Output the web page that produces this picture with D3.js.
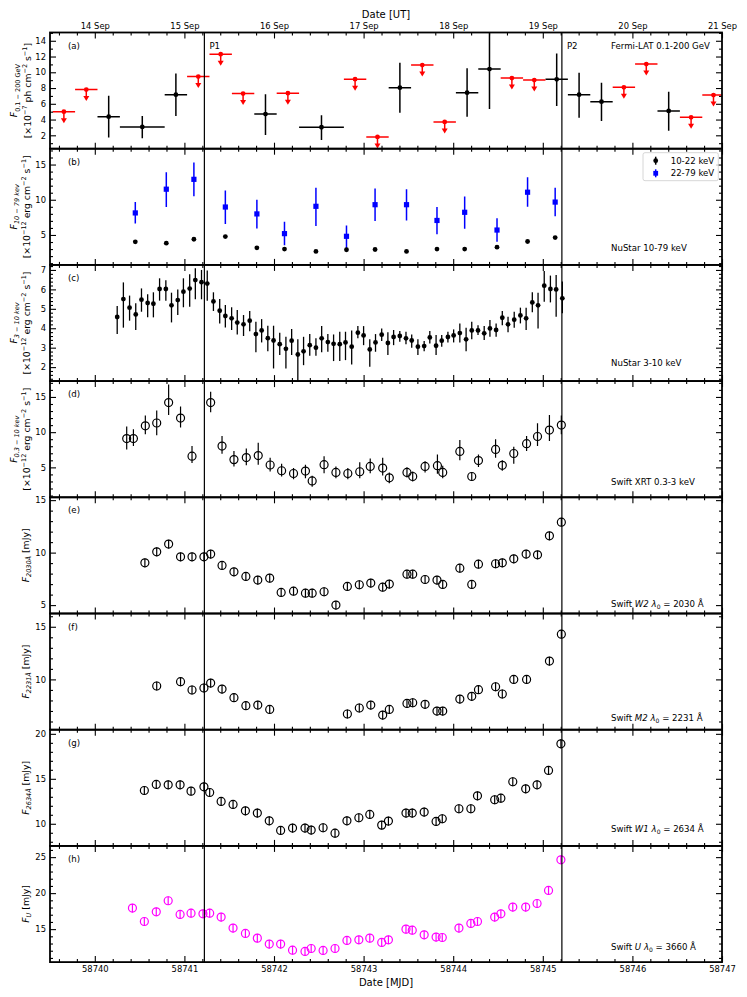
<!DOCTYPE html>
<html><head><meta charset="utf-8">
<script src="https://cdn.jsdelivr.net/npm/d3@7"></script>
<style>body{margin:0;background:#fff}svg{display:block}text{font-family:"DejaVu Sans",sans-serif;fill:#000}</style>
</head><body><svg id="c" width="747" height="997"></svg>
<script>
// ---------------- DATA ----------------
const xDomain = [58739.5, 58747];
const mjdTicks = [58740, 58741, 58742, 58743, 58744, 58745, 58746, 58747];
const utTickLabels = ["14 Sep", "15 Sep", "16 Sep", "17 Sep", "18 Sep", "19 Sep", "20 Sep", "21 Sep"];
const flareTimes = [58741.223, 58745.213];
const flareNames = ["P1", "P2"];

// (a) Fermi-LAT detections
const fermiX   = [58740.155, 58740.53, 58740.905, 58741.905, 58742.53, 58743.405, 58744.155, 58744.405, 58745.155, 58745.405, 58745.655, 58746.405];
const fermiXlo = [58740.03, 58740.28, 58740.78, 58741.78, 58742.28, 58743.28, 58744.03, 58744.28, 58745.03, 58745.28, 58745.53, 58746.28];
const fermiXhi = [58740.28, 58740.78, 58741.03, 58742.03, 58742.78, 58743.53, 58744.28, 58744.53, 58745.28, 58745.53, 58745.78, 58746.53];
const fermiY   = [4.37, 3.06, 7.16, 4.7, 3.02, 8.04, 7.41, 10.41, 9.1, 7.16, 6.27, 5.09];
const fermiYlo = [1.71, 1.62, 4.45, 2.04, 1.41, 4.87, 4.37, 5.34, 5.72, 4.24, 3.82, 2.59];
const fermiYhi = [7.03, 4.45, 9.86, 7.2, 4.54, 11.2, 10.5, 15.5, 12.4, 9.94, 8.68, 7.54];
// (a) Fermi-LAT upper limits
const ulX   = [58739.655, 58739.905, 58741.155, 58741.405, 58741.655, 58742.155, 58742.905, 58743.155, 58743.655, 58743.905, 58744.655, 58744.905, 58745.905, 58746.155, 58746.655, 58746.905];
const ulXlo = [58739.53, 58739.78, 58741.03, 58741.28, 58741.53, 58742.03, 58742.78, 58743.03, 58743.53, 58743.78, 58744.53, 58744.78, 58745.78, 58746.03, 58746.53, 58746.78];
const ulXhi = [58739.78, 58740.03, 58741.28, 58741.53, 58741.78, 58742.28, 58743.03, 58743.28, 58743.78, 58744.03, 58744.78, 58745.03, 58746.03, 58746.28, 58746.78, 58747.03];
const ulY   = [5.0, 7.8, 9.45, 12.3, 7.3, 7.35, 9.12, 1.8, 10.92, 3.7, 9.27, 9.01, 8.09, 11.04, 4.28, 7.11];

// (b) NuSTAR 10-22 and 22-79 keV
const nuHardX = [58740.452, 58740.798, 58741.106, 58741.457, 58741.809, 58742.117, 58742.468, 58742.809, 58743.128, 58743.479, 58743.819, 58744.128, 58744.489, 58744.830, 58745.138];
const nu1022   = [4.02, 3.83, 4.39, 4.77, 3.18, 2.99, 2.66, 2.9, 2.94, 2.66, 2.99, 2.99, 3.27, 4.07, 4.63];
const nu1022Err = 0.2;
const nu2279   = [8.13, 11.5, 12.9, 8.97, 7.99, 5.19, 9.07, 4.81, 9.3, 9.3, 7.06, 8.22, 5.7, 11.07, 9.67];
const nu2279Lo = [6.64, 8.97, 10.5, 6.54, 5.93, 3.55, 6.26, 3.08, 7.0, 7.05, 5.09, 5.89, 4.02, 9.0, 7.66];
const nu2279Hi = [9.67, 13.9, 15.3, 11.3, 10.0, 6.87, 11.7, 6.36, 11.6, 11.5, 8.97, 10.47, 7.38, 13.2, 11.7];

// (c) NuSTAR 3-10 keV
const nuSoftX = [58740.250, 58740.319, 58740.388, 58740.457, 58740.521, 58740.590, 58740.654, 58740.723, 58740.793, 58740.856,
  58740.926, 58740.989, 58741.059, 58741.122, 58741.191, 58741.255, 58741.324, 58741.394, 58741.457, 58741.527,
  58741.590, 58741.660, 58741.729, 58741.798, 58741.862, 58741.931, 58741.995, 58742.064, 58742.133, 58742.197,
  58742.266, 58742.330, 58742.399, 58742.468, 58742.532, 58742.601, 58742.665, 58742.734, 58742.798, 58742.867,
  58742.936, 58743.000, 58743.069, 58743.133, 58743.202, 58743.271, 58743.335, 58743.404, 58743.473, 58743.537,
  58743.606, 58743.676, 58743.739, 58743.809, 58743.872, 58743.941, 58744.005, 58744.074, 58744.144, 58744.207,
  58744.277, 58744.346, 58744.410, 58744.479, 58744.548, 58744.612, 58744.681, 58744.750, 58744.814, 58744.883,
  58744.947, 58745.016, 58745.085, 58745.149, 58745.218];
const nuSoftY = [4.58, 5.5, 5.06, 4.71, 5.47, 5.3, 5.26, 6.02, 6.02, 5.18,
  5.45, 5.88, 6.04, 6.48, 6.37, 6.3, 5.38, 4.9, 4.63, 4.51,
  4.29, 4.2, 4.39, 3.70, 3.89, 3.49, 3.37, 3.18, 2.94, 3.36,
  2.65, 2.81, 3.13, 3.0, 3.48, 3.29, 3.2, 3.18, 3.27, 3.05,
  3.77, 3.63, 2.91, 3.27, 3.67, 3.24, 3.55, 3.6, 3.48, 3.37,
  3.05, 3.08, 3.53, 3.1, 3.36, 3.55, 3.63, 3.75, 3.43, 3.89,
  3.89, 3.74, 3.99, 3.91, 4.54, 4.2, 4.44, 4.66, 4.51, 5.33,
  5.18, 6.19, 6.02, 6.0, 5.54];
const nuSoftHi = [5.14, 6.36, 5.68, 5.28, 6.05, 5.75, 5.85, 6.57, 6.47, 5.83,
  6.0, 6.57, 6.78, 7.09, 7.0, 6.97, 5.85, 5.51, 5.2, 5.08,
  4.94, 4.68, 4.89, 4.34, 4.47, 4.13, 4.13, 3.77, 3.56, 3.96,
  3.44, 3.56, 3.70, 3.48, 4.11, 3.70, 3.68, 3.82, 3.82, 3.89,
  4.11, 4.11, 3.43, 3.70, 3.99, 3.79, 3.91, 3.86, 3.82, 3.68,
  3.43, 3.34, 3.86, 3.65, 3.65, 3.82, 3.94, 4.25, 4.03, 4.34,
  4.16, 4.11, 4.42, 4.25, 4.89, 4.59, 4.85, 5.06, 5.06, 5.85,
  5.83, 6.95, 6.71, 6.74, 6.40];
const nuSoftLo = [3.70, 4.03, 4.39, 3.91, 4.85, 4.56, 4.56, 5.42, 5.42, 4.30,
  4.68, 5.08, 5.11, 5.49, 5.49, 5.42, 4.89, 4.25, 4.04, 3.91,
  3.68, 3.6, 3.84, 2.76, 3.27, 2.82, 1.93, 2.62, 1.93, 2.62,
  1.0, 2.10, 2.58, 2.58, 2.76, 2.79, 2.31, 2.31, 2.36, 2.14,
  3.48, 3.13, 2.02, 2.79, 3.34, 2.62, 3.13, 3.31, 3.17, 3.0,
  2.62, 2.82, 3.22, 2.62, 3.05, 3.27, 3.27, 3.27, 2.82, 3.44,
  3.65, 3.39, 3.56, 3.56, 4.16, 3.79, 4.03, 4.25, 3.91, 4.82,
  3.99, 5.37, 5.33, 4.59, 4.77];

// (d) Swift XRT 0.3-10 keV
const xrtX = [58740.356, 58740.431, 58740.564, 58740.691, 58740.824, 58740.957, 58741.085, 58741.293, 58741.420, 58741.553,
  58741.691, 58741.824, 58741.957, 58742.085, 58742.218, 58742.351, 58742.426, 58742.559, 58742.691, 58742.824,
  58742.957, 58743.074, 58743.213, 58743.287, 58743.484, 58743.548, 58743.686, 58743.824, 58743.883, 58744.074,
  58744.207, 58744.282, 58744.473, 58744.548, 58744.676, 58744.819, 58744.941, 58745.074, 58745.207];
const xrtY = [9.09, 9.09, 10.9, 11.3, 14.2, 12.0, 6.59, 14.2, 8.03, 6.1,
  6.39, 6.68, 5.34, 4.52, 4.13, 4.47, 3.08, 5.38, 4.28, 4.13,
  4.38, 5.14, 4.9, 3.51, 4.28, 3.7, 5.14, 5.24, 4.28, 7.26,
  3.7, 5.96, 7.55, 5.29, 6.97, 8.37, 9.38, 10.3, 11.0];
const xrtHi = [10.82, 10.43, 12.36, 13.08, 16.78, 13.65, 8.03, 15.72, 9.47, 7.31,
  7.69, 8.51, 6.35, 5.53, 4.9, 5.38, 3.8, 6.59, 5.14, 4.9,
  5.72, 6.25, 6.35, 4.28, 5.0, 4.42, 5.87, 6.83, 5.24, 8.89,
  4.28, 6.83, 8.99, 6.01, 7.93, 9.47, 11.25, 12.45, 12.36];
const xrtLo = [7.55, 8.03, 9.71, 9.57, 12.45, 10.67, 5.63, 12.84, 6.92, 5.14,
  5.29, 5.38, 4.42, 3.7, 3.32, 3.46, 2.26, 4.18, 3.46, 3.32,
  3.46, 4.18, 3.85, 2.74, 3.56, 2.98, 4.28, 4.09, 3.46, 6.01,
  3.08, 5.05, 6.35, 4.52, 5.53, 7.31, 8.03, 8.75, 9.71];

// (e) UVOT W2
const w2X = [58740.559, 58740.691, 58740.824, 58740.957, 58741.085, 58741.218, 58741.293, 58741.420, 58741.553, 58741.686,
  58741.819, 58741.952, 58742.080, 58742.218, 58742.351, 58742.426, 58742.559, 58742.691, 58742.819, 58742.952,
  58743.080, 58743.213, 58743.287, 58743.484, 58743.548, 58743.686, 58743.819, 58743.883, 58744.074, 58744.207,
  58744.282, 58744.473, 58744.548, 58744.676, 58744.814, 58744.941, 58745.074, 58745.207];
const w2Y = [9.03, 10.08, 10.81, 9.6, 9.6, 9.6, 9.86, 8.78, 8.17, 7.73,
  7.38, 7.57, 6.21, 6.33, 6.14, 6.14, 6.27, 5.0, 6.78, 6.94,
  7.1, 6.71, 7.0, 7.95, 7.95, 7.44, 7.38, 6.97, 8.52, 6.97,
  8.9, 8.94, 9.03, 9.41, 9.86, 9.79, 11.6, 12.9];
const w2Err = 0.42;

// (f) UVOT M2
const m2X = [58740.691, 58740.957, 58741.085, 58741.218, 58741.293, 58741.420, 58741.553, 58741.686, 58741.819, 58741.952,
  58742.819, 58742.952, 58743.080, 58743.213, 58743.287, 58743.484, 58743.548, 58743.686, 58743.819, 58743.883,
  58744.074, 58744.207, 58744.282, 58744.473, 58744.548, 58744.676, 58744.819, 58745.074, 58745.207];
const m2Y = [9.37, 9.78, 8.99, 9.18, 9.65, 9.08, 8.26, 7.5, 7.56, 7.15,
  6.71, 7.28, 7.56, 6.61, 7.15, 7.72, 7.78, 7.63, 6.99, 6.99,
  8.13, 8.39, 9.02, 9.3, 8.61, 10.0, 10.0, 11.74, 14.3];
const m2Err = 0.42;

// (g) UVOT W1
const w1X = [58740.553, 58740.686, 58740.819, 58740.952, 58741.074, 58741.218, 58741.282, 58741.410, 58741.543, 58741.681,
  58741.814, 58741.947, 58742.074, 58742.207, 58742.346, 58742.415, 58742.548, 58742.681, 58742.814, 58742.947,
  58743.069, 58743.202, 58743.277, 58743.473, 58743.543, 58743.676, 58743.809, 58743.878, 58744.064, 58744.197,
  58744.271, 58744.463, 58744.532, 58744.665, 58744.809, 58744.936, 58745.064, 58745.202];
const w1Y = [13.7, 14.37, 14.33, 14.33, 13.63, 14.11, 13.48, 12.48, 12.15, 11.44,
  11.19, 10.33, 9.26, 9.52, 9.52, 9.3, 9.56, 8.96, 10.33, 10.67,
  11.04, 9.85, 10.3, 11.19, 11.19, 11.3, 10.26, 10.56, 11.67, 11.67,
  13.11, 12.67, 12.85, 14.67, 13.89, 14.33, 15.93, 18.89];
const w1Err = 0.5;

// (h) UVOT U
const uX = [58740.420, 58740.553, 58740.686, 58740.819, 58740.952, 58741.074, 58741.207, 58741.282, 58741.410, 58741.543,
  58741.681, 58741.814, 58741.947, 58742.074, 58742.207, 58742.346, 58742.415, 58742.548, 58742.681, 58742.814,
  58742.947, 58743.069, 58743.202, 58743.277, 58743.473, 58743.543, 58743.676, 58743.809, 58743.878, 58744.064,
  58744.197, 58744.271, 58744.463, 58744.532, 58744.665, 58744.809, 58744.936, 58745.064, 58745.202];
const uY = [17.92, 16.06, 17.41, 18.94, 17.04, 17.22, 17.13, 17.22, 16.67, 15.14,
  14.4, 13.75, 12.92, 12.92, 12.08, 11.9, 12.31, 12.04, 12.31, 13.43,
  13.52, 13.75, 13.15, 13.52, 15.0, 14.86, 14.21, 13.89, 13.84, 15.14,
  15.79, 16.06, 16.67, 17.13, 18.06, 18.06, 18.56, 20.37, 24.63];
const uErr = 0.6;

// ---------------- LAYOUT ----------------
const L = 50, R = 722, TOP = 32.5, PH = 116.2, NP = 8;
const FS = 8.6, TICKFS = 8.4, LABFS = 9.3;
const svg = d3.select('#c');
const x = d3.scaleLinear().domain(xDomain).range([L, R]);

function rich(sel, segs, fs) {
  let cur = 0;
  segs.forEach(([t, m]) => {
    const ts = sel.append('tspan').text(t);
    const target = m.includes('sub') ? 0.26 * fs : m.includes('sup') ? -0.38 * fs : 0;
    ts.attr('dy', (target - cur).toFixed(2));
    cur = target;
    if (m.includes('sub') || m.includes('sup')) ts.attr('font-size', (fs * 0.7).toFixed(2));
    if (m.includes('i')) ts.attr('font-style', 'italic');
  });
  return sel;
}
const unitsX = [['[×10', ''], ['−12', 'sup'], [' erg cm', ''], ['−2', 'sup'], [' s', ''], ['−1', 'sup'], [']', '']];

const panels = [
  { key: 'a', dom: [0.3, 15.05], major: [2, 4, 6, 8, 10, 12, 14], minor: 1,
    ylab: [[['F', 'i'], ['0.1 − 200 GeV', 'sub']],
           [['[×10', ''], ['−7', 'sup'], [' ph cm', ''], ['−2', 'sup'], [' s', ''], ['−1', 'sup'], [']', '']]],
    note: [['Fermi-LAT 0.1-200 GeV', '']], noteY: 16 },
  { key: 'b', dom: [0.75, 17.25], major: [5, 10, 15], minor: 1,
    ylab: [[['F', 'i'], ['10 − 79 kev', 'isub']], unitsX],
    note: [['NuStar 10-79 keV', '']], noteY: PH - 14 },
  { key: 'c', dom: [1.28, 7.26], major: [2, 3, 4, 5, 6, 7], minor: 0.2,
    ylab: [[['F', 'i'], ['3 − 10 kev', 'isub']], unitsX],
    note: [['NuStar 3-10 keV', '']], noteY: PH - 15 },
  { key: 'd', dom: [0.75, 17.25], major: [5, 10, 15], minor: 1,
    ylab: [[['F', 'i'], ['0.3 − 10 kev', 'isub']], unitsX],
    note: [['Swift XRT 0.3-3 keV', '']], noteY: PH - 12 },
  { key: 'e', dom: [4.2, 15.27], major: [5, 10, 15], minor: 1,
    ylab: [[['F', 'i'], ['2030Å', 'isub'], [' [mJy]', '']]],
    note: [['Swift ', ''], ['W2', 'i'], [' ', ''], ['λ', 'i'], ['0', 'sub'], [' = 2030 Å', '']], noteY: PH - 7 },
  { key: 'f', dom: [5.22, 16.26], major: [10, 15], minor: 1,
    ylab: [[['F', 'i'], ['2231Å', 'isub'], [' [mJy]', '']]],
    note: [['Swift ', ''], ['M2', 'i'], [' ', ''], ['λ', 'i'], ['0', 'sub'], [' = 2231 Å', '']], noteY: PH - 8.5 },
  { key: 'g', dom: [7.54, 20.46], major: [10, 15, 20], minor: 1,
    ylab: [[['F', 'i'], ['2634Å', 'isub'], [' [mJy]', '']]],
    note: [['Swift ', ''], ['W1', 'i'], [' ', ''], ['λ', 'i'], ['0', 'sub'], [' = 2634 Å', '']], noteY: PH - 14 },
  { key: 'h', dom: [10.42, 26.56], major: [15, 20, 25], minor: 1,
    ylab: [[['F', 'i'], ['U', 'isub'], [' [mJy]', '']]],
    note: [['Swift ', ''], ['U', 'i'], [' ', ''], ['λ', 'i'], ['0', 'sub'], [' = 3660 Å', '']], noteY: PH - 12 }
];

const xMinor = d3.range(xDomain[0] + 0.1, xDomain[1], 0.2).filter(v => Math.abs(v - Math.round(v)) > 0.05);
const defs = svg.append('defs');

function vbar(g, xv, lo, hi, y, color, w) {
  g.append('line').attr('x1', x(xv)).attr('x2', x(xv)).attr('y1', y(lo)).attr('y2', y(hi))
    .attr('stroke', color).attr('stroke-width', w);
}

panels.forEach((p, i) => {
  const top = TOP + i * PH, bot = top + PH;
  const y = d3.scaleLinear().domain(p.dom).range([bot, top]);
  defs.append('clipPath').attr('id', 'clip' + i).append('rect')
    .attr('x', L).attr('y', top).attr('width', R - L).attr('height', PH);
  const g = svg.append('g').attr('clip-path', `url(#clip${i})`);

  if (p.key === 'a') {
    fermiX.forEach((xv, k) => {
      g.append('line').attr('x1', x(fermiXlo[k])).attr('x2', x(fermiXhi[k]))
        .attr('y1', y(fermiY[k])).attr('y2', y(fermiY[k])).attr('stroke', '#000').attr('stroke-width', 1.5);
      vbar(g, xv, fermiYlo[k], fermiYhi[k], y, '#000', 1.5);
      g.append('circle').attr('cx', x(xv)).attr('cy', y(fermiY[k])).attr('r', 2.4).attr('fill', '#000');
    });
    ulX.forEach((xv, k) => {
      const cx = x(xv), cy = y(ulY[k]);
      g.append('line').attr('x1', x(ulXlo[k])).attr('x2', x(ulXhi[k])).attr('y1', cy).attr('y2', cy)
        .attr('stroke', '#ff0000').attr('stroke-width', 1.5);
      g.append('line').attr('x1', cx).attr('x2', cx).attr('y1', cy).attr('y2', cy + 7)
        .attr('stroke', '#ff0000').attr('stroke-width', 1.5);
      g.append('path').attr('d', `M${cx - 3},${cy + 6.5}L${cx + 3},${cy + 6.5}L${cx},${cy + 11.5}Z`).attr('fill', '#ff0000');
      g.append('circle').attr('cx', cx).attr('cy', cy).attr('r', 2.4).attr('fill', '#ff0000');
    });
  }
  if (p.key === 'b') {
    nuHardX.forEach((xv, k) => {
      vbar(g, xv, nu2279Lo[k], nu2279Hi[k], y, '#0000ff', 1.5);
      g.append('rect').attr('x', x(xv) - 2.6).attr('y', y(nu2279[k]) - 2.6).attr('width', 5.2).attr('height', 5.2).attr('fill', '#0000ff');
      vbar(g, xv, nu1022[k] - nu1022Err, nu1022[k] + nu1022Err, y, '#000', 1.5);
      g.append('circle').attr('cx', x(xv)).attr('cy', y(nu1022[k])).attr('r', 2.4).attr('fill', '#000');
    });
  }
  if (p.key === 'c') {
    nuSoftX.forEach((xv, k) => {
      vbar(g, xv, nuSoftLo[k], nuSoftHi[k], y, '#000', 1.3);
      g.append('circle').attr('cx', x(xv)).attr('cy', y(nuSoftY[k])).attr('r', 2.4).attr('fill', '#000');
    });
  }
  const openSeries = { d: [xrtX, xrtY, xrtLo, xrtHi, '#000'], e: [w2X, w2Y, null, w2Err, '#000'],
    f: [m2X, m2Y, null, m2Err, '#000'], g: [w1X, w1Y, null, w1Err, '#000'], h: [uX, uY, null, uErr, '#ff00ff'] };
  if (openSeries[p.key]) {
    const [xs, ys, lo, hi, col] = openSeries[p.key];
    xs.forEach((xv, k) => {
      const l = lo ? lo[k] : ys[k] - hi, h = lo ? hi[k] : ys[k] + hi;
      vbar(g, xv, l, h, y, col, 1.2);
      g.append('circle').attr('cx', x(xv)).attr('cy', y(ys[k])).attr('r', 4).attr('fill', 'none')
        .attr('stroke', col).attr('stroke-width', 1.2);
    });
  }

  // axes / ticks
  const ax = svg.append('g').attr('font-family', '"DejaVu Sans",sans-serif');
  const styleAxis = s => { s.select('.domain').remove(); s.selectAll('line').attr('stroke', '#000').attr('stroke-width', 1.1);
    s.selectAll('text').attr('font-size', TICKFS).attr('fill', '#000').attr('font-family', '"DejaVu Sans",sans-serif'); };
  ax.append('g').attr('transform', `translate(0,${bot})`)
    .call(d3.axisBottom(x).tickValues(mjdTicks).tickSize(-6).tickPadding(4).tickFormat(i === NP - 1 ? d3.format('d') : () => ''))
    .call(styleAxis);
  ax.append('g').attr('transform', `translate(0,${bot})`).call(d3.axisBottom(x).tickValues(xMinor).tickSize(-3).tickFormat(() => '')).call(styleAxis);
  ax.append('g').attr('transform', `translate(0,${top})`)
    .call(d3.axisTop(x).tickValues(mjdTicks).tickSize(-6).tickPadding(4).tickFormat((d, j) => i === 0 ? utTickLabels[j] : ''))
    .call(styleAxis);
  ax.append('g').attr('transform', `translate(0,${top})`).call(d3.axisTop(x).tickValues(xMinor).tickSize(-3).tickFormat(() => '')).call(styleAxis);
  const yMinor = d3.range(Math.ceil(p.dom[0] / p.minor) * p.minor, p.dom[1], p.minor)
    .filter(v => !p.major.some(m => Math.abs(m - v) < 1e-6));
  ax.append('g').attr('transform', `translate(${L},0)`).call(d3.axisLeft(y).tickValues(p.major).tickSize(-6).tickPadding(4).tickFormat(d3.format('d'))).call(styleAxis);
  ax.append('g').attr('transform', `translate(${L},0)`).call(d3.axisLeft(y).tickValues(yMinor).tickSize(-3).tickFormat(() => '')).call(styleAxis);
  ax.append('g').attr('transform', `translate(${R},0)`).call(d3.axisRight(y).tickValues(p.major).tickSize(-6).tickFormat(() => '')).call(styleAxis);
  ax.append('g').attr('transform', `translate(${R},0)`).call(d3.axisRight(y).tickValues(yMinor).tickSize(-3).tickFormat(() => '')).call(styleAxis);

  // frame
  svg.append('rect').attr('x', L).attr('y', top).attr('width', R - L).attr('height', PH)
    .attr('fill', 'none').attr('stroke', '#000').attr('stroke-width', 1.8);

  // panel letter + note
  svg.append('text').attr('x', 68).attr('y', top + 16).attr('font-size', FS).text(`(${p.key})`);
  rich(svg.append('text').attr('x', 611).attr('y', top + p.noteY).attr('font-size', FS), p.note, FS);

  // y label
  const cy = top + PH / 2;
  if (p.ylab.length === 2) {
    const xs = i === 0 ? [17.2, 30.5] : [16.5, 29.5];
    p.ylab.forEach((segs, j) => {
      rich(svg.append('text').attr('text-anchor', 'middle').attr('font-size', LABFS)
        .attr('transform', `translate(${xs[j]},${cy}) rotate(-90)`), segs, LABFS);
    });
  } else {
    rich(svg.append('text').attr('text-anchor', 'middle').attr('font-size', LABFS)
      .attr('transform', `translate(28.5,${cy}) rotate(-90)`), p.ylab[0], LABFS);
  }

  if (p.key === 'b') {
    const lg = svg.append('g');
    lg.append('rect').attr('x', 643).attr('y', top + 4).attr('width', 75.3).attr('height', 28).attr('rx', 2)
      .attr('fill', '#fff').attr('fill-opacity', 0.8).attr('stroke', '#cccccc').attr('stroke-width', 0.8);
    const rows = [{ t: '10-22 keV', c: '#000', sq: false }, { t: '22-79 keV', c: '#0000ff', sq: true }];
    rows.forEach((r, j) => {
      const ry = top + 12 + j * 12.6, mx = 655.7;
      lg.append('line').attr('x1', mx).attr('x2', mx).attr('y1', ry - 4).attr('y2', ry + 4).attr('stroke', r.c).attr('stroke-width', 1.5);
      if (r.sq) lg.append('rect').attr('x', mx - 2.4).attr('y', ry - 2.4).attr('width', 4.8).attr('height', 4.8).attr('fill', r.c);
      else lg.append('circle').attr('cx', mx).attr('cy', ry).attr('r', 2.4).attr('fill', r.c);
      lg.append('text').attr('x', 670.7).attr('y', ry + 3).attr('font-size', FS).text(r.t);
    });
  }
});

// flare lines
flareTimes.forEach((t, k) => {
  svg.append('line').attr('x1', x(t)).attr('x2', x(t)).attr('y1', TOP).attr('y2', TOP + NP * PH)
    .attr('stroke', '#000').attr('stroke-width', 1.2);
  svg.append('text').attr('x', x(t) + 5).attr('y', TOP + 16).attr('font-size', FS).text(flareNames[k]);
});

// axis titles
svg.append('text').attr('x', (L + R) / 2).attr('y', 18).attr('text-anchor', 'middle').attr('font-size', 10).text('Date [UT]');
svg.append('text').attr('x', (L + R) / 2).attr('y', 986).attr('text-anchor', 'middle').attr('font-size', 10).text('Date [MJD]');
</script></body></html>
